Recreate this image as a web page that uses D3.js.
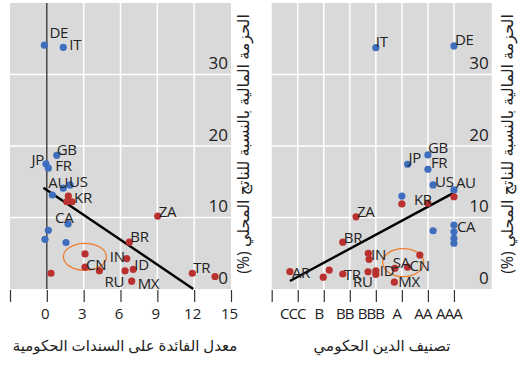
<!DOCTYPE html>
<html><head><meta charset="utf-8">
<script src="https://cdn.jsdelivr.net/npm/d3@7/dist/d3.min.js"></script>
<style>
body{margin:0;background:#fff;}
svg text{font-family:"Open Sans","DejaVu Sans",sans-serif;fill:#222;}
</style></head><body>
<svg id="c" width="530" height="371"></svg>
<script>
// ---------- DATA ----------
// Left panel: government bond yield (%) vs fiscal package (% of GDP)
const leftLabels = ["DE","IT","GB","JP","FR","AU","US","","CA","","","",
                    "KR","","","ZA","BR","IN","ID","RU","MX","TR","","CN","","",""];
const leftYield  = [-0.20,1.34,0.81,-0.07,0.12,1.34,1.89,0.45,1.73,0.12,-0.15,1.56,
                    2.05,1.75,1.62,9.03,6.72,6.51,7.04,6.37,6.91,11.85,13.7,3.11,3.11,4.28,0.34];
const leftPackage= [32.5,32.2,17.1,15.9,15.3,12.5,12.95,11.55,7.5,6.6,5.35,4.9,
                    10.6,11.4,10.6,8.6,4.95,2.65,1.15,0.95,-0.5,0.6,0.15,1.45,3.3,0.95,0.6];
const leftGroup  = ["a","a","a","a","a","a","a","a","a","a","a","a",
                    "e","e","e","e","e","e","e","e","e","e","e","e","e","e","e"];
// Right panel: sovereign rating (index, CCC=1 ... AAA=7) vs fiscal package
const rightLabels = ["IT","DE","GB","JP","FR","US","AU","","","CA","","","",
                     "","","KR","ZA","BR","IN","","ID","","RU","SA","CN","","MX","AR","","","TR"];
const rightRating = [4,7,6,5.22,6,6.2,7,5,6.2,7,7,7,7,
                     7,5,6,3.24,2.73,3.74,3.71,4.0,4.0,3.7,4.73,5.22,5.69,4.71,0.7,1.98,2.21,2.73];
const rightPackage= [32.15,32.4,17.15,15.85,15.15,12.95,12.25,11.4,6.55,7.35,6.4,5.5,4.8,
                     11.3,10.3,10.4,8.5,4.95,2.55,3.4,0.95,0.45,0.8,1.3,1.45,3.15,-0.65,0.83,0.05,1.05,0.5];
const rightGroup  = ["a","a","a","a","a","a","a","a","a","a","a","a","a",
                     "e","e","e","e","e","e","e","e","e","e","e","e","e","e","e","e","e","e"];
// axis ticks
const leftXTicks = [-3,0,3,6,9,12,15];
const leftXTickLabels = ["","0","3","6","9","12","15"];
const ratingTicks = [0,1,2,3,4,5,6,7];
const ratingTickLabels = ["","CCC","B","BB","BBB","A","AA","AAA"];
const yTickLabels = [0,10,20,30];
const yGridValues = [8.4,18.4,28.4];
// fitted trend lines: intercept, slope, x-extent
const leftTrend  = {intercept:12.25, slope:-1.16, from:-0.28, to:11.93};
const rightTrend = {intercept:-1.85, slope:1.96, from:0.70, to:6.97};
// highlighted China clusters (ellipse centre in data units)
const leftHighlight  = {x:3.1, y:2.9};
const rightHighlight = {x:5.05, y:2.1};
// texts
const xTitleLeft  = "معدل الفائدة على السندات الحكومية";
const xTitleRight = "تصنيف الدين الحكومي";
const yTitle      = "الحزمة المالية بالنسبة للناتج المحلي (%)";

// ---------- label placement (pixels, relative to point) ----------
const leftLabelPos = {
  DE:[5,-7,"start"], IT:[6,3,"start"], GB:[0,0,"start"], JP:[-2,1,"end"], FR:[7,3,"start"],
  AU:[-15,0,"start"], US:[-1,2,"start"], CA:[-13,-1,"start"], KR:[2,1,"start"], ZA:[1,1,"start"],
  BR:[1,0,"start"], IN:[-2,3,"end"], ID:[1,1,"start"], RU:[-1,16,"end"], MX:[6,8,"start"],
  TR:[1,0,"start"], CN:[1,3,"start"]
};
const rightLabelPos = {
  IT:[0,-1,"start"], DE:[1,-1,"start"], GB:[0,-2,"start"], JP:[1,-1,"start"], FR:[3,-1,"start"],
  US:[2,2,"start"], AU:[2,-2,"start"], KR:[-14,2,"start"], ZA:[1,0,"start"], BR:[1,1,"start"],
  AR:[2,6,"start"], TR:[1,6,"start"], RU:[-15,15,"start"], IN:[2,1,"start"], ID:[4,5,"start"],
  SA:[-2,0,"start"], CN:[2,4,"start"], MX:[4,5,"start"], CA:[3,7,"start"]
};

const svg = d3.select("#c");
const colors = {a:"#3F6EBF", e:"#B8312F"};
const yDomain = [-1.6, 38.4];

function panel(opts){
  const g = svg.append("g");
  const x = d3.scaleLinear().domain(opts.xDomain).range(opts.xRange);
  const y = d3.scaleLinear().domain(yDomain).range([289,3]);
  g.append("rect").attr("x",opts.xRange[0]).attr("y",3)
    .attr("width",opts.xRange[1]-opts.xRange[0]).attr("height",286).attr("fill","#D9D9D9");
  g.selectAll(".vg").data(opts.vGrid).join("line")
    .attr("x1",d=>x(d)).attr("x2",d=>x(d)).attr("y1",3).attr("y2",289)
    .attr("stroke","#fff").attr("stroke-width",1.5);
  g.selectAll(".hg").data(yGridValues).join("line")
    .attr("x1",opts.xRange[0]).attr("x2",opts.xRange[1]).attr("y1",d=>y(d)).attr("y2",d=>y(d))
    .attr("stroke","#fff").attr("stroke-width",1.5);
  if(opts.zeroLine){
    g.append("line").attr("x1",x(0)).attr("x2",x(0)).attr("y1",3).attr("y2",289)
      .attr("stroke","#222").attr("stroke-width",1.2);
  }
  g.selectAll(".yl").data(yTickLabels).join("text")
    .attr("x",opts.xRange[1]-3).attr("y",d=>y(d)).attr("dy","0.35em")
    .attr("text-anchor","end").attr("font-size",17).text(d=>d);
  const t = opts.trend;
  g.append("path").datum([t.from,t.to])
    .attr("d",d3.line().x(d=>x(d)).y(d=>y(t.intercept+t.slope*d)))
    .attr("stroke","#000").attr("stroke-width",2.4).attr("fill","none");
  g.append("ellipse").attr("cx",x(opts.hl.x)).attr("cy",y(opts.hl.y))
    .attr("rx",opts.hlR[0]).attr("ry",opts.hlR[1])
    .attr("fill","none").attr("stroke","#ED7D31").attr("stroke-width",1.3);
  const pts = opts.xs.map((v,i)=>({x:v,y:opts.ys[i],g:opts.groups[i],l:opts.labels[i]}));
  g.selectAll(".pt").data(pts).join("circle")
    .attr("cx",d=>x(d.x)).attr("cy",d=>y(d.y)).attr("r",3.6).attr("fill",d=>colors[d.g]);
  g.selectAll(".lb").data(pts.filter(d=>d.l)).join("text")
    .attr("x",d=>x(d.x)+opts.lpos[d.l][0]).attr("y",d=>y(d.y)+opts.lpos[d.l][1])
    .attr("text-anchor",d=>opts.lpos[d.l][2]).attr("font-size",15)
    .attr("letter-spacing",-0.3).text(d=>d.l);
  const ax = g.append("g").attr("transform","translate(0,290)")
    .call(d3.axisBottom(x).tickValues(opts.ticks).tickSize(12).tickPadding(6)
      .tickFormat((d,i)=>opts.tickLabels[i]));
  ax.select(".domain").remove();
  ax.selectAll(".tick line").attr("stroke","#333").attr("stroke-width",1.2);
  ax.selectAll(".tick text").attr("font-size",15).attr("fill","#222")
    .attr("font-family","Open Sans, sans-serif").attr("letter-spacing",opts.tickLs)
    .attr("dx",opts.tickDx);
  g.append("text").attr("x",opts.xTitleX).attr("y",351).attr("text-anchor","middle")
    .attr("direction","rtl").attr("font-size",15).text(opts.xTitle);
  g.append("text").attr("transform",`translate(${opts.yTitleX},144) rotate(-90)`)
    .attr("text-anchor","middle").attr("direction","rtl").attr("dy","0.35em")
    .attr("font-size",16).text(yTitle);
}

panel({xDomain:[-3,15], xRange:[10,231], vGrid:[3,6,9,12], zeroLine:true,
  trend:leftTrend, hl:leftHighlight, hlR:[21.5,13.5],
  xs:leftYield, ys:leftPackage, groups:leftGroup, labels:leftLabels, lpos:leftLabelPos,
  ticks:leftXTicks, tickLabels:leftXTickLabels, tickDx:-2, tickLs:0,
  xTitle:xTitleLeft, xTitleX:125, yTitleX:243});
panel({xDomain:[0,8.45], xRange:[271.7,491.7], vGrid:[1,2,3,4,5,6,7], zeroLine:false,
  trend:rightTrend, hl:rightHighlight, hlR:[20.5,14],
  xs:rightRating, ys:rightPackage, groups:rightGroup, labels:rightLabels, lpos:rightLabelPos,
  ticks:ratingTicks, tickLabels:ratingTickLabels, tickDx:-5.5, tickLs:-0.9,
  xTitle:xTitleRight, xTitleX:382, yTitleX:507});
</script></body></html>
